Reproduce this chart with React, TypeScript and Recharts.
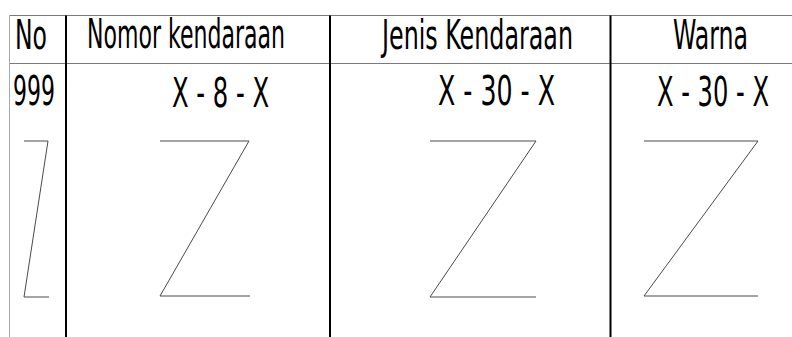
import React from "react";
import { ComposedChart, XAxis, YAxis, Scatter, ReferenceLine } from "recharts";

// Table header labels and first-row values
const headers = ["No", "Nomor kendaraan", "Jenis Kendaraan", "Warna"];
const rowValues = ["999", "X - 8 - X", "X - 30 - X", "X - 30 - X"];

// Text anchors in drawing units (x = left, y = baseline, w = text length)
const headerCells = [
  { x: 15, y: 49, w: 32, text: headers[0] },
  { x: 87, y: 48, w: 198, text: headers[1] },
  { x: 382, y: 49, w: 191, text: headers[2] },
  { x: 673, y: 49, w: 75, text: headers[3] },
];
const rowCells = [
  { x: 13, y: 105, w: 42, text: rowValues[0] },
  { x: 172, y: 107, w: 97, text: rowValues[1] },
  { x: 438, y: 105, w: 117, text: rowValues[2] },
  { x: 657, y: 106, w: 112, text: rowValues[3] },
];

// "Z" strike marks in each column
const zNo = [
  { x: 24, y: 141 },
  { x: 48, y: 141 },
  { x: 24, y: 297 },
  { x: 49, y: 297 },
];
const zNomor = [
  { x: 160, y: 141 },
  { x: 249, y: 141 },
  { x: 160, y: 296 },
  { x: 250, y: 296 },
];
const zJenis = [
  { x: 430, y: 141 },
  { x: 536, y: 141 },
  { x: 430, y: 297 },
  { x: 536, y: 297 },
];
const zWarna = [
  { x: 644, y: 141 },
  { x: 758, y: 141 },
  { x: 644, y: 296 },
  { x: 758, y: 296 },
];

// Table rules
const columnDividers = [66, 330, 610.5];
const rowRules = [15.5, 63.5];
const leftBorder = 9.5;
const tableTop = 15.5;
const tableBottom = 337;
const tableRight = 792;

const W = 792;
const H = 337;
const FONT = "'Liberation Sans Narrow', 'DejaVu Sans Condensed', 'Liberation Sans', sans-serif";

const TextShape = (props: any) => {
  const { cx, cy, payload } = props;
  if (cx == null || cy == null) return null;
  return (
    <text
      x={cx}
      y={cy}
      textLength={payload.w}
      lengthAdjust="spacingAndGlyphs"
      fontFamily={FONT}
      fontSize={41}
      fill="#000"
    >
      {payload.text}
    </text>
  );
};

const NoDot = () => null;

export default function App() {
  const zs = [zNo, zNomor, zJenis, zWarna];
  return (
    <div style={{ position: "absolute", left: 0, top: 0, width: W, height: H, background: "#fff" }}>
      <ComposedChart width={W} height={H} margin={{ top: 0, right: 0, bottom: 0, left: 0 }}>
        <XAxis type="number" dataKey="x" domain={[0, W]} hide allowDataOverflow />
        <YAxis type="number" dataKey="y" domain={[0, H]} reversed hide width={0} allowDataOverflow />
        {rowRules.map((y, i) => (
          <ReferenceLine
            key={"h" + i}
            segment={[{ x: leftBorder, y }, { x: tableRight, y }]}
            stroke="#7a7a7a"
            strokeWidth={1}
            ifOverflow="visible"
          />
        ))}
        <ReferenceLine
          segment={[{ x: leftBorder, y: tableTop }, { x: leftBorder, y: tableBottom }]}
          stroke="#a8a8a8"
          strokeWidth={1}
          ifOverflow="visible"
        />
        {columnDividers.map((x, i) => (
          <ReferenceLine
            key={"v" + i}
            segment={[{ x, y: tableTop }, { x, y: tableBottom }]}
            stroke="#000"
            strokeWidth={2}
            ifOverflow="visible"
          />
        ))}
        {zs.map((d, i) => (
          <Scatter
            key={"z" + i}
            data={d}
            line={{ stroke: "#4a4a4a", strokeWidth: 1 }}
            lineJointType="linear"
            shape={NoDot}
            isAnimationActive={false}
          />
        ))}
        <Scatter data={headerCells} shape={TextShape} isAnimationActive={false} />
        <Scatter data={rowCells} shape={TextShape} isAnimationActive={false} />
      </ComposedChart>
    </div>
  );
}
